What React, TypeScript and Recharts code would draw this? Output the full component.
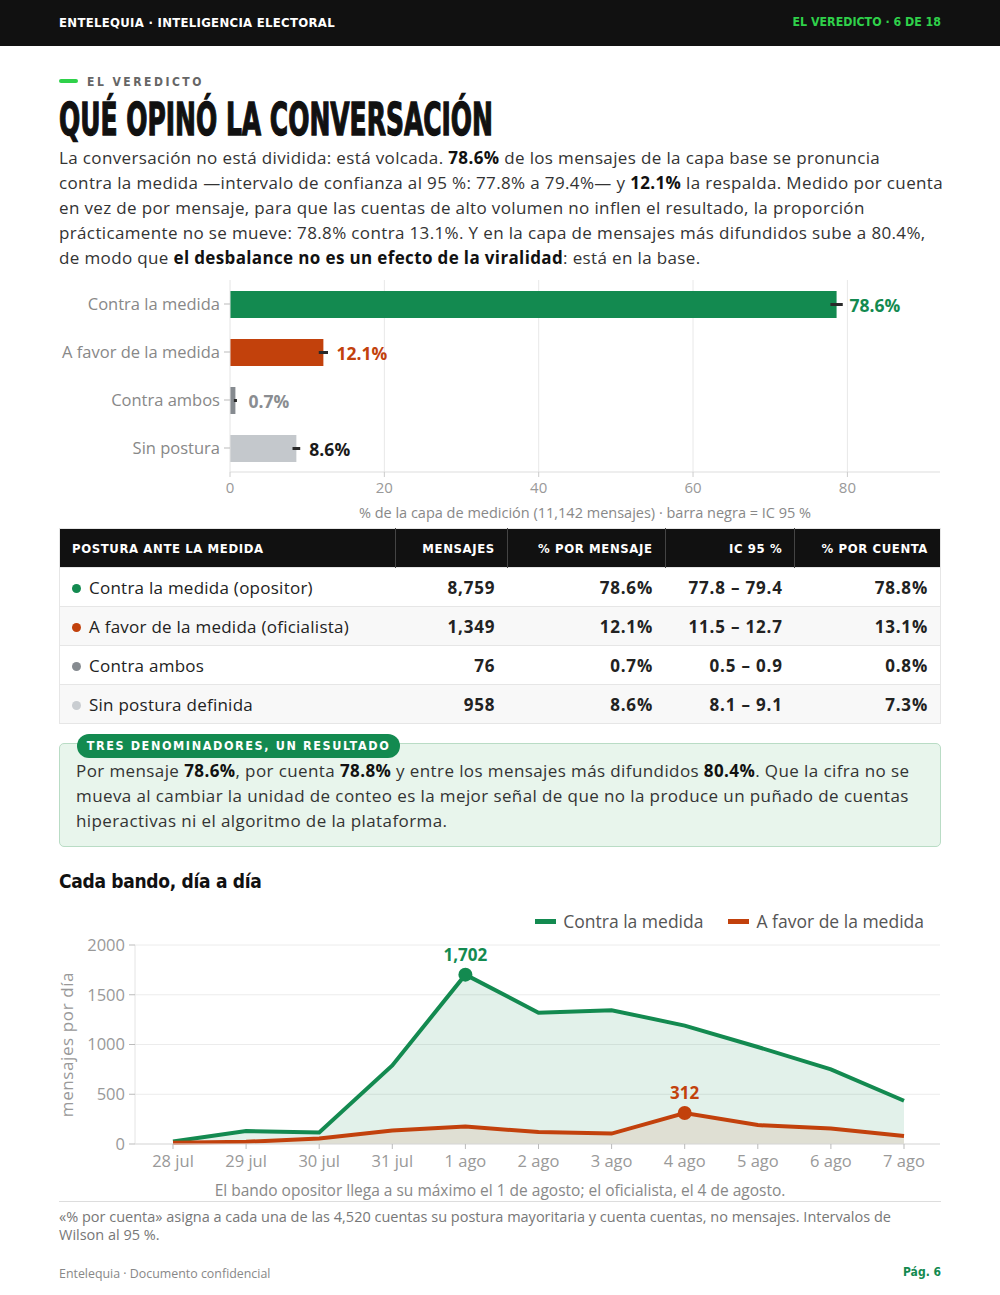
import React from 'react'
import {
  Area,
  Bar,
  BarChart,
  CartesianGrid,
  Cell,
  ComposedChart,
  ErrorBar,
  Label,
  LabelList,
  Legend,
  XAxis,
  YAxis,
} from 'recharts'

// --- postura (capa base) ---
const CATEGORIES = ['Contra la medida', 'A favor de la medida', 'Contra ambos', 'Sin postura']
const SHARE = [78.6, 12.1, 0.7, 8.6]
const CI_LOW = [77.8, 11.5, 0.5, 8.1]
const CI_HIGH = [79.4, 12.7, 0.9, 9.1]
const BAR_COLORS = ['#138a50', '#c2410c', '#868b90', '#c4c8cc']
const LABEL_COLORS = ['#138a50', '#c2410c', '#8a8d91', '#1a1a1a']
const BAR_TICKS = [0, 20, 40, 60, 80]
const BAR_MAX = 92

// --- tabla ---
const ROW_LABELS = [
  'Contra la medida (opositor)',
  'A favor de la medida (oficialista)',
  'Contra ambos',
  'Sin postura definida',
]
const MESSAGES = [8759, 1349, 76, 958]
const PCT_ACCOUNT = [78.8, 13.1, 0.8, 7.3]
const DOT_COLORS = ['#138a50', '#c2410c', '#868b90', '#c9cdd1']

// --- serie diaria ---
const DAYS = ['28 jul', '29 jul', '30 jul', '31 jul', '1 ago', '2 ago', '3 ago', '4 ago', '5 ago', '6 ago', '7 ago']
const CONTRA = [25, 130, 115, 790, 1702, 1320, 1345, 1190, 975, 750, 435]
const FAVOR = [12, 22, 55, 135, 175, 120, 105, 312, 190, 155, 80]
const LINE_TICKS = [0, 500, 1000, 1500, 2000]

const GREEN = '#138a50'
const ORANGE = '#c2410c'
const BODY_FONT = '"Open Sans", "Noto Sans", sans-serif'
const COND_FONT = '"DejaVu Sans Condensed", "Liberation Sans Narrow", "DejaVu Sans", sans-serif'

const barData = CATEGORIES.map((name, i) => ({
  name,
  value: SHARE[i],
  err: [SHARE[i] - CI_LOW[i], CI_HIGH[i] - SHARE[i]],
}))

const lineData = DAYS.map((day, i) => ({ day, contra: CONTRA[i], favor: FAVOR[i] }))
const peakContra = CONTRA.indexOf(Math.max(...CONTRA))
const peakFavor = FAVOR.indexOf(Math.max(...FAVOR))

const fmt = (n: number) => n.toLocaleString('en-US')

function BarValueLabel(props: any) {
  const { x, y, width, height, value } = props
  const i = SHARE.indexOf(value)
  return (
    <text
      x={x + width + 13}
      y={y + height / 2}
      dominantBaseline="central"
      fill={LABEL_COLORS[i]}
      fontSize={17.5}
      fontWeight={700}
      fontFamily={BODY_FONT}
    >
      {value}%
    </text>
  )
}

// gridlines only at the labelled ticks, no line at the domain end
const barGridX = ({ xAxis, offset }: any) =>
  BAR_TICKS.slice(1).map((t) =>
    typeof xAxis?.scale === 'function' ? xAxis.scale(t) : offset.left + (t / BAR_MAX) * offset.width,
  )

function peakDot(peak: number, color: string) {
  return (props: any) => {
    const { cx, cy, index } = props
    if (index !== peak) return <g key={`d${index}`} />
    return (
      <g key={`d${index}`}>
        <circle cx={cx} cy={cy} r={7} fill={color} />
        <text
          x={cx}
          y={cy - 20}
          textAnchor="middle"
          dominantBaseline="central"
          fill={color}
          fontSize={17}
          fontWeight={700}
          fontFamily={BODY_FONT}
        >
          {fmt(props.payload[props.dataKey])}
        </text>
      </g>
    )
  }
}

function LineLegend() {
  const items = [
    { label: 'Contra la medida', color: GREEN },
    { label: 'A favor de la medida', color: ORANGE },
  ]
  return (
    <div style={{ display: 'flex', gap: 25, fontFamily: BODY_FONT, fontSize: 17.5, color: '#555' }}>
      {items.map((it) => (
        <div key={it.label} style={{ display: 'flex', alignItems: 'center', gap: 7 }}>
          <span style={{ width: 21, height: 5, background: it.color, display: 'inline-block' }} />
          {it.label}
        </div>
      ))}
    </div>
  )
}

const b = (t: string) => <b style={{ color: '#111', fontWeight: 700 }}>{t}</b>

export default function App() {
  const abs = (top: number, left = 59): React.CSSProperties => ({ position: 'absolute', top, left })
  const th: React.CSSProperties = {
    color: '#fff',
    fontFamily: COND_FONT,
    fontWeight: 700,
    fontSize: 13,
    letterSpacing: 0.6,
    textAlign: 'right',
    padding: '0 12px',
    borderLeft: '1px solid #444',
  }
  const colW = [336, 112, 158, 130, 146]

  return (
    <div
      style={{
        position: 'absolute',
        top: 0,
        left: 0,
        width: 1000,
        height: 1295,
        background: '#fff',
        fontFamily: BODY_FONT,
        color: '#333',
        overflow: 'hidden',
      }}
    >
      {/* barra superior */}
      <div style={{ position: 'absolute', top: 0, left: 0, width: 1000, height: 46, background: '#111' }}>
        <div
          style={{
            position: 'absolute',
            left: 59,
            top: 15,
            color: '#fff',
            fontFamily: COND_FONT,
            fontWeight: 700,
            fontSize: 13,
            letterSpacing: 0.3,
          }}
        >
          ENTELEQUIA · INTELIGENCIA ELECTORAL
        </div>
        <div
          style={{
            position: 'absolute',
            right: 59,
            top: 15,
            color: '#2fd14a',
            fontFamily: COND_FONT,
            fontWeight: 700,
            fontSize: 12.3,
            letterSpacing: 0,
          }}
        >
          EL VEREDICTO · 6 DE 18
        </div>
      </div>

      {/* encabezado */}
      <div style={{ ...abs(79), width: 19, height: 4, background: '#2fd14a', borderRadius: 2 }} />
      <div
        style={{
          ...abs(75, 87),
          fontFamily: COND_FONT,
          fontWeight: 700,
          fontSize: 12,
          letterSpacing: 2.5,
          color: '#666',
        }}
      >
        EL VEREDICTO
      </div>
      <svg style={{ ...abs(95), overflow: 'visible' }} width={440} height={46}>
        <text
          x={0}
          y={40}
          fontFamily={COND_FONT}
          fontWeight={900}
          fontSize={45}
          fill="#111"
          stroke="#111"
          strokeWidth={1.3}
          textLength={434}
          lengthAdjust="spacingAndGlyphs"
        >
          QUÉ OPINÓ LA CONVERSACIÓN
        </text>
      </svg>
      <div
        style={{
          ...abs(145),
          fontSize: 17,
          letterSpacing: 0.36,
          lineHeight: '25px',
          whiteSpace: 'nowrap',
          color: '#333',
        }}
      >
        La conversación no está dividida: está volcada. {b('78.6%')} de los mensajes de la capa base se pronuncia
        <br />
        contra la medida —intervalo de confianza al 95 %: 77.8% a 79.4%— y {b('12.1%')} la respalda. Medido por cuenta
        <br />
        en vez de por mensaje, para que las cuentas de alto volumen no inflen el resultado, la proporción
        <br />
        prácticamente no se mueve: 78.8% contra 13.1%. Y en la capa de mensajes más difundidos sube a 80.4%,
        <br />
        de modo que {b('el desbalance no es un efecto de la viralidad')}: está en la base.
      </div>

      {/* barras horizontales */}
      <div style={abs(280)}>
        <BarChart
          width={882}
          height={248}
          data={barData}
          layout="vertical"
          margin={{ top: 0, right: 1, bottom: 0, left: 0 }}
          barSize={27}
          style={{ fontFamily: BODY_FONT }}
        >
          <CartesianGrid horizontal={false} stroke="#e8e8e8" verticalCoordinatesGenerator={barGridX} />
          <XAxis
            type="number"
            domain={[0, BAR_MAX]}
            ticks={BAR_TICKS}
            allowDataOverflow
            height={56}
            tick={{ fontSize: 15, fill: '#999' }}
            tickLine={{ stroke: '#ccc' }}
            axisLine={{ stroke: '#ddd' }}
            tickSize={5}
            tickMargin={5}
          >
            <Label
              value="% de la capa de medición (11,142 mensajes) · barra negra = IC 95 %"
              position="insideBottom"
              offset={10}
              style={{ fontSize: 14.5, fill: '#888' }}
            />
          </XAxis>
          <YAxis
            type="category"
            dataKey="name"
            width={171}
            tick={{ fontSize: 16.5, fill: '#888' }}
            tickLine={{ stroke: '#bbb' }}
            axisLine={{ stroke: '#e4e4e4' }}
            tickSize={6}
            tickMargin={4}
          />
          <Bar dataKey="value" isAnimationActive={false}>
            {barData.map((d, i) => (
              <Cell key={d.name} fill={BAR_COLORS[i]} />
            ))}
            <ErrorBar dataKey="err" width={0} strokeWidth={3} stroke="#2a2a2a" direction="x" />
            <LabelList dataKey="value" content={BarValueLabel} />
          </Bar>
        </BarChart>
      </div>

      {/* tabla */}
      <table
        style={{
          ...abs(528),
          width: 882,
          borderCollapse: 'collapse',
          border: '1px solid #e6e6e6',
          fontSize: 17,
          color: '#222',
          background: '#fff',
        }}
      >
        <colgroup>
          {colW.map((w, i) => (
            <col key={i} style={{ width: w }} />
          ))}
        </colgroup>
        <thead>
          <tr style={{ background: '#111', height: 39 }}>
            <th style={{ ...th, textAlign: 'left', borderLeft: 'none' }}>POSTURA ANTE LA MEDIDA</th>
            <th style={th}>MENSAJES</th>
            <th style={th}>% POR MENSAJE</th>
            <th style={th}>IC 95 %</th>
            <th style={th}>% POR CUENTA</th>
          </tr>
        </thead>
        <tbody>
          {ROW_LABELS.map((label, i) => {
            const td: React.CSSProperties = {
              textAlign: 'right',
              padding: '0 12px',
              fontWeight: 700,
              letterSpacing: 0.8,
            }
            return (
              <tr
                key={label}
                style={{ height: 39, background: i % 2 ? '#f8f8f8' : '#fff', borderTop: '1px solid #e6e6e6' }}
              >
                <td style={{ padding: '0 12px', letterSpacing: 0.25, whiteSpace: 'nowrap' }}>
                  <span
                    style={{
                      display: 'inline-block',
                      width: 9,
                      height: 9,
                      borderRadius: '50%',
                      background: DOT_COLORS[i],
                      marginRight: 8,
                      verticalAlign: 'middle',
                    }}
                  />
                  {label}
                </td>
                <td style={td}>{fmt(MESSAGES[i])}</td>
                <td style={td}>{SHARE[i]}%</td>
                <td style={td}>
                  {CI_LOW[i]} – {CI_HIGH[i]}
                </td>
                <td style={td}>{PCT_ACCOUNT[i]}%</td>
              </tr>
            )
          })}
        </tbody>
      </table>

      {/* recuadro */}
      <div
        style={{
          ...abs(743),
          width: 880,
          height: 102,
          background: '#e8f5ec',
          border: '1px solid #b9dcc5',
          borderRadius: 5,
        }}
      />
      <div
        style={{
          ...abs(734, 77),
          height: 24,
          width: 323,
          background: GREEN,
          borderRadius: 12,
          color: '#fff',
          fontFamily: COND_FONT,
          fontWeight: 700,
          fontSize: 12.5,
          letterSpacing: 1.6,
          lineHeight: '24px',
          textAlign: 'center',
        }}
      >
        TRES DENOMINADORES, UN RESULTADO
      </div>
      <div
        style={{
          ...abs(758, 76),
          fontSize: 17,
          letterSpacing: 0.4,
          lineHeight: '25px',
          whiteSpace: 'nowrap',
          color: '#333',
        }}
      >
        Por mensaje {b('78.6%')}, por cuenta {b('78.8%')} y entre los mensajes más difundidos {b('80.4%')}. Que la cifra no se
        <br />
        mueva al cambiar la unidad de conteo es la mejor señal de que no la produce un puñado de cuentas
        <br />
        hiperactivas ni el algoritmo de la plataforma.
      </div>

      {/* serie diaria */}
      <div
        style={{
          ...abs(870),
          fontFamily: COND_FONT,
          fontWeight: 700,
          fontSize: 19,
          letterSpacing: -0.3,
          color: '#111',
        }}
      >
        Cada bando, día a día
      </div>
      <div style={abs(900, 49)}>
        <ComposedChart
          width={892}
          height={276}
          data={lineData}
          margin={{ top: 21, right: 1, bottom: 0, left: 0 }}
          style={{ fontFamily: BODY_FONT }}
        >
          <CartesianGrid vertical={false} stroke="#ececec" />
          <XAxis
            dataKey="day"
            interval={0}
            padding={{ left: 38, right: 36 }}
            height={32}
            tick={{ fontSize: 16.5, fill: '#999' }}
            tickLine={{ stroke: '#bbb' }}
            axisLine={{ stroke: '#ddd' }}
            tickSize={5}
            tickMargin={6}
          />
          <YAxis
            domain={[0, 2000]}
            ticks={LINE_TICKS}
            width={86}
            tick={{ fontSize: 16.5, fill: '#999' }}
            tickLine={{ stroke: '#bbb' }}
            axisLine={{ stroke: '#e4e4e4' }}
            tickSize={6}
            tickMargin={4}
          >
            <Label
              value="mensajes por día"
              angle={-90}
              position="insideLeft"
              offset={18}
              style={{ textAnchor: 'middle', fontSize: 17, letterSpacing: 0.6, fill: '#999' }}
            />
          </YAxis>
          <Legend
            verticalAlign="top"
            align="right"
            content={LineLegend}
            wrapperStyle={{ top: 9, right: 17, left: 'auto', width: 'auto' }}
          />
          <Area
            type="linear"
            dataKey="contra"
            stroke={GREEN}
            strokeWidth={4}
            fill={GREEN}
            fillOpacity={0.12}
            dot={peakDot(peakContra, GREEN)}
            activeDot={false}
            isAnimationActive={false}
          />
          <Area
            type="linear"
            dataKey="favor"
            stroke={ORANGE}
            strokeWidth={4}
            fill={ORANGE}
            fillOpacity={0.1}
            dot={peakDot(peakFavor, ORANGE)}
            activeDot={false}
            isAnimationActive={false}
          />
        </ComposedChart>
      </div>
      <div
        style={{
          position: 'absolute',
          top: 1179,
          left: 0,
          width: 1000,
          textAlign: 'center',
          fontSize: 15.5,
          color: '#888',
        }}
      >
        El bando opositor llega a su máximo el 1 de agosto; el oficialista, el 4 de agosto.
      </div>
      <div style={{ ...abs(1201), width: 882, height: 1, background: '#ddd' }} />
      <div style={{ ...abs(1208), fontSize: 14.5, lineHeight: '18px', color: '#777', width: 900, whiteSpace: 'nowrap' }}>
        «% por cuenta» asigna a cada una de las 4,520 cuentas su postura mayoritaria y cuenta cuentas, no mensajes. Intervalos de
        <br />
        Wilson al 95 %.
      </div>

      {/* pie */}
      <div style={{ ...abs(1265), fontSize: 12.4, color: '#888' }}>Entelequia · Documento confidencial</div>
      <div
        style={{
          position: 'absolute',
          top: 1265,
          right: 59,
          fontSize: 12,
          fontWeight: 700,
          color: GREEN,
          fontFamily: COND_FONT,
        }}
      >
        Pág. 6
      </div>
    </div>
  )
}
